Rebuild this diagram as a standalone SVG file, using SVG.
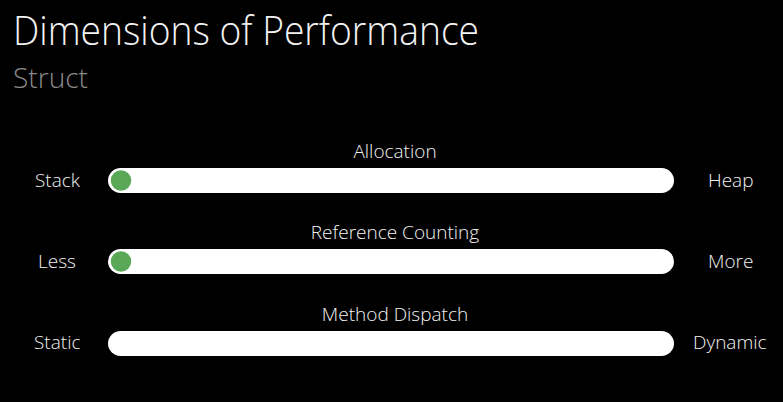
<svg xmlns="http://www.w3.org/2000/svg" width="783" height="402" viewBox="0 0 783 402">
<style>
.t{font-family:"Open Sans","Liberation Sans",sans-serif;fill:#f2f2f2}
.lbl{font-size:19px;font-weight:300}
.bar{fill:#ffffff}
.knob{fill:#58a858;stroke:#ffffff;stroke-width:1.5}
</style>
<rect width="783" height="402" fill="#000"/>
<text class="t" x="13" y="45" font-size="40" font-weight="300" textLength="466" lengthAdjust="spacingAndGlyphs">Dimensions of Performance</text>
<text class="t" x="13" y="88" font-size="28" font-weight="300" style="fill:#8a8a8a" textLength="75" lengthAdjust="spacingAndGlyphs">Struct</text>
<g id="allocation">
<text class="t lbl" x="395" y="158" text-anchor="middle">Allocation</text>
<text class="t lbl" x="35" y="187">Stack</text>
<text class="t lbl" x="708" y="187">Heap</text>
<rect class="bar" x="108" y="168" width="566" height="25" rx="12.5"/>
<circle class="knob" cx="121" cy="180.5" r="11"/>
</g>
<g id="refcount">
<text class="t lbl" x="395" y="239" text-anchor="middle">Reference Counting</text>
<text class="t lbl" x="38" y="268">Less</text>
<text class="t lbl" x="708" y="268">More</text>
<rect class="bar" x="108" y="249" width="566" height="25" rx="12.5"/>
<circle class="knob" cx="121" cy="261.5" r="11"/>
</g>
<g id="dispatch">
<text class="t lbl" x="395" y="321" text-anchor="middle">Method Dispatch</text>
<text class="t lbl" x="34" y="349">Static</text>
<text class="t lbl" x="693" y="349">Dynamic</text>
<rect class="bar" x="108" y="331" width="566" height="25" rx="12.5"/>
</g>
<g id="connectors"/>
</svg>
